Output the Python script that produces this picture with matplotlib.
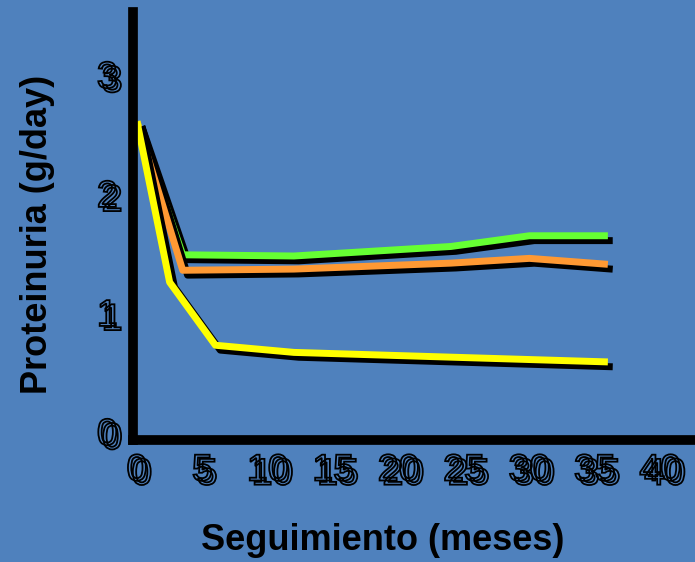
import numpy as np
import matplotlib
matplotlib.use("Agg")
import matplotlib.pyplot as plt
import matplotlib.patheffects as pe

# Datos (meses, g/day)
meses_verde = [0, 3.5, 12, 24, 30, 36]
prot_verde = [2.6, 1.48, 1.47, 1.55, 1.64, 1.64]

meses_naranja = [0, 3.5, 12, 24, 30, 36]
prot_naranja = [2.6, 1.35, 1.36, 1.41, 1.45, 1.40]

meses_amarillo = [0, 2.5, 6, 12, 24, 30, 36]
prot_amarillo = [2.6, 1.25, 0.72, 0.66, 0.62, 0.60, 0.58]

xticks = [0, 5, 10, 15, 20, 25, 30, 35, 40]
yticks = [0, 1, 2, 3]

fondo = "#4f81bd"
plt.rcParams['font.family'] = ['Liberation Sans', 'DejaVu Sans']

fig = plt.figure(figsize=(6.95, 5.62), dpi=100)
fig.patch.set_facecolor(fondo)
W, H = 695, 562
ax = fig.add_axes([133 / W, (H - 440) / H, (695 - 133) / W, (440 - 12) / H])
ax.set_facecolor(fondo)

sombra = [pe.SimpleLineShadow(offset=(3.5, -3.5), shadow_color='black', alpha=1), pe.Normal()]
for xs, ys, c in [(meses_verde, prot_verde, "#66ff33"),
                  (meses_naranja, prot_naranja, "#ff9933"),
                  (meses_amarillo, prot_amarillo, "#ffff00")]:
    ax.plot(xs, ys, color=c, lw=5, solid_capstyle='butt', path_effects=sombra)

ax.set_xlim(-0.3, 42.66)
ax.set_ylim(-0.076, 3.52)

for s in ['top', 'right']:
    ax.spines[s].set_visible(False)
for s in ['left', 'bottom']:
    ax.spines[s].set_linewidth(7)
    ax.spines[s].set_color('black')

# numeros huecos con copia desplazada
hueco = [pe.PathPatchEffect(offset=(3.5, -3), edgecolor='black', facecolor='none', linewidth=1.3),
         pe.PathPatchEffect(edgecolor='black', facecolor='none', linewidth=1.3)]

ax.set_xticks(xticks)
ax.set_xticklabels([str(t) for t in xticks])
ax.set_yticks(yticks)
ax.set_yticklabels([str(t) for t in yticks])
ax.tick_params(length=0, labelsize=27)
ax.tick_params(axis='x', pad=9)
ax.tick_params(axis='y', pad=11)
for lab in ax.get_xticklabels() + ax.get_yticklabels():
    lab.set_path_effects(hueco)

fig.text(383 / W, 1 - 541 / H, "Seguimiento (meses)", fontsize=26, fontweight='bold',
         ha='center', va='center')
fig.text(38 / W, 1 - 234 / H, "Proteinuria (g/day)", fontsize=26, fontweight='bold',
         ha='center', va='center', rotation=90)

fig.savefig("out.png", dpi=100, facecolor=fondo)
